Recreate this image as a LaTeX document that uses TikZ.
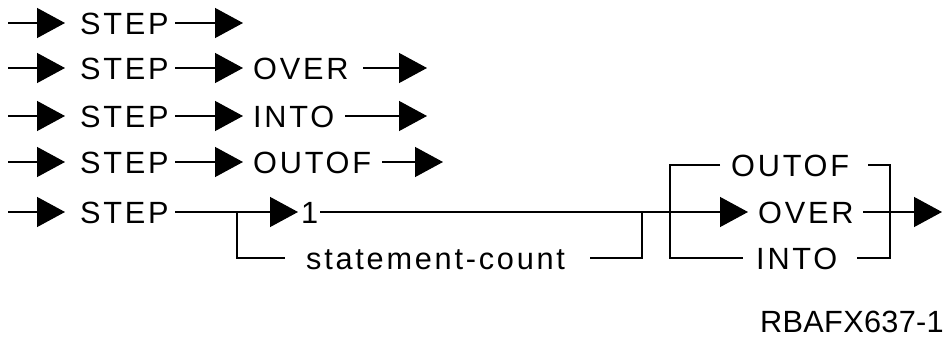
\documentclass[tikz,border=0pt]{standalone}
\usepackage{fontspec}
\usetikzlibrary{arrows.meta}
\newfontfamily\diagfont[LetterSpace=9]{Liberation Sans}
\newfontfamily\idfont[LetterSpace=1]{Liberation Sans}
\begin{document}
\begin{tikzpicture}[x=1pt,y=-1pt,
  ln/.style={line width=1.3pt},
  arr/.style={ln,-{Triangle[length=28pt,width=30pt]}},
  txt/.style={anchor=base west, inner sep=0pt, font=\diagfont\fontsize{30.7}{36}\selectfont},
  idtxt/.style={anchor=base east, inner sep=0pt, font=\idfont\fontsize{30.7}{36}\selectfont},
]
\useasboundingbox (0,0) rectangle (946,339);
% ---------- row 1
\coordinate (a1s) at (8,23);  \coordinate (a1t) at (65,23);
\node[txt] (step1) at (80,34.5) {STEP};
\coordinate (b1s) at (175,23); \coordinate (b1t) at (243,23);
\draw[arr] (a1s) -- (a1t);
\draw[arr] (b1s) -- (b1t);
% ---------- row 2
\coordinate (a2s) at (8,68);  \coordinate (a2t) at (65,68);
\node[txt] (step2) at (80,79.5) {STEP};
\coordinate (b2s) at (175,68); \coordinate (b2t) at (243,68);
\node[txt] (over2) at (253,79.5) {OVER};
\coordinate (c2s) at (363,68); \coordinate (c2t) at (427,68);
\draw[arr] (a2s) -- (a2t);
\draw[arr] (b2s) -- (b2t);
\draw[arr] (c2s) -- (c2t);
% ---------- row 3
\coordinate (a3s) at (8,116);  \coordinate (a3t) at (65,116);
\node[txt] (step3) at (80,127.5) {STEP};
\coordinate (b3s) at (175,116); \coordinate (b3t) at (243,116);
\node[txt] (into3) at (253,127.5) {INTO};
\coordinate (c3s) at (345,116); \coordinate (c3t) at (427,116);
\draw[arr] (a3s) -- (a3t);
\draw[arr] (b3s) -- (b3t);
\draw[arr] (c3s) -- (c3t);
% ---------- row 4
\coordinate (a4s) at (8,162);  \coordinate (a4t) at (65,162);
\node[txt] (step4) at (80,173.5) {STEP};
\coordinate (b4s) at (175,162); \coordinate (b4t) at (243,162);
\node[txt] (outof4) at (253,173.5) {OUTOF};
\coordinate (c4s) at (382,162); \coordinate (c4t) at (443,162);
\draw[arr] (a4s) -- (a4t);
\draw[arr] (b4s) -- (b4t);
\draw[arr] (c4s) -- (c4t);
% ---------- row 5
\coordinate (a5s) at (8,212);  \coordinate (a5t) at (65,212);
\node[txt] (step5) at (80,223.5) {STEP};
\coordinate (b5s) at (175,212); \coordinate (j1) at (237,212); \coordinate (b5t) at (298,212);
\node[txt] (one) at (301,223.5) {1};
\coordinate (c5s) at (320,212); \coordinate (j2) at (642,212); \coordinate (j3) at (670,212);
\coordinate (overt) at (748,212);
\node[txt] (over5) at (758,223.5) {OVER};
\coordinate (d5s) at (863,212); \coordinate (j4) at (890,212); \coordinate (endt) at (942,212);
% lower branch
\coordinate (sc1) at (237,258); \coordinate (sc2) at (285,258);
\node[txt] (stmt) at (306,269.5) {statement-count};
\coordinate (sc3) at (590,258); \coordinate (sc4) at (642,258);
% keyword bracket
\coordinate (k1) at (670,165); \coordinate (k2) at (720,165);
\node[txt] (outof5) at (731,176.5) {OUTOF};
\coordinate (k3) at (868,165); \coordinate (k4) at (890,165);
\coordinate (i1) at (670,258); \coordinate (i2) at (743,258);
\node[txt] (into5) at (756,269.5) {INTO};
\coordinate (i3) at (857,258); \coordinate (i4) at (890,258);
\node[idtxt] (id) at (944,333) {RBAFX637-1};
\draw[arr] (a5s) -- (a5t);
\draw[arr] (b5s) -- (b5t);
\draw[ln] (j1) -- (sc1) -- (sc2);
\draw[ln] (sc3) -- (sc4) -- (j2);
\draw[arr] (c5s) -- (overt);
\draw[ln] (k2) -- (k1) -- (i1) -- (i2);
\draw[ln] (k3) -- (k4) -- (i4) -- (i3);
\draw[arr] (d5s) -- (endt);
\end{tikzpicture}
\end{document}
